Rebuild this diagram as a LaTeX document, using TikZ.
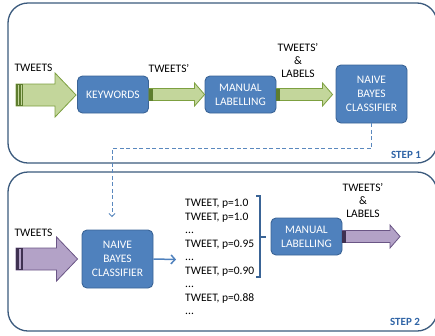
\documentclass[tikz,border=0pt]{standalone}
\usepackage{fontspec}
\setmainfont{Carlito}
\usetikzlibrary{arrows.meta,calc}

\definecolor{boxblue}{HTML}{4F81BD}
\definecolor{boxedge}{HTML}{3A6496}
\definecolor{paneledge}{HTML}{3B5A7D}
\definecolor{dashblue}{HTML}{5A88BE}
\definecolor{steptxt}{HTML}{2F64A6}
\definecolor{gfill}{HTML}{C3D69B}
\definecolor{gline}{HTML}{7DA040}
\definecolor{gdark}{HTML}{5E7D2E}
\definecolor{pfill}{HTML}{B3A2C7}
\definecolor{pline}{HTML}{6A5585}
\definecolor{pdark}{HTML}{3F3151}

% block arrow: fill, line, from, to, shaft half, head half, head length
\newcommand{\fatarrow}[7]{%
  \draw[fill=#1, draw=#2, line width=0.8pt, line join=miter] let \p1=(#3), \p2=(#4) in
    (\x1,\y1-#5) -- (\x2-#7,\y1-#5) -- (\x2-#7,\y1-#6) -- (\x2,\y1)
    -- (\x2-#7,\y1+#6) -- (\x2-#7,\y1+#5) -- (\x1,\y1+#5) -- cycle;
}
\newcommand{\skiprow}{...}

\begin{document}
\begin{tikzpicture}[x=1pt,y=-1pt,
  txt/.style={font=\fontsize{11.5}{14}\selectfont, inner sep=0pt},
  stage/.style={txt, align=center, text=white, fill=boxblue, draw=boxedge,
    line width=0.9pt, rounded corners=5pt, minimum width=71pt},
  panel/.style={draw=paneledge, line width=1.3pt, rounded corners=20pt},
  steplbl/.style={inner sep=0pt, font=\fontsize{11}{13}\selectfont\bfseries, text=steptxt}]
  \useasboundingbox (0,0) rectangle (435,335);

  % the two stages
  \draw[panel] (8,3) rectangle (437,163);
  \draw[panel] (8,172) rectangle (437,331);

  % step 1
  \node[stage, minimum height=37pt] (keywords) at (113,94.5) {KEYWORDS};
  \node[stage, minimum height=37pt] (manual1) at (240.5,94.5) {MANUAL\\LABELLING};
  \node[stage, minimum height=58pt] (nb1) at (371.5,94) {NAIVE\\BAYES\\CLASSIFIER};
  \coordinate (in1) at (16,95);

  \fatarrow{gfill}{gline}{in1}{[xshift=-1pt]keywords.west}{11pt}{22pt}{21pt}
  \fill[gdark] ([yshift=-11pt]in1) rectangle ([shift={(7pt,11pt)}]in1);
  \fill[gfill] ([shift={(2.3pt,-10.4pt)}]in1) rectangle ([shift={(3.4pt,10.4pt)}]in1);
  \fill[gfill] ([shift={(4.8pt,-10.4pt)}]in1) rectangle ([shift={(5.6pt,10.4pt)}]in1);
  \fatarrow{gfill}{gline}{keywords.east}{manual1.west}{6pt}{11.5pt}{10pt}
  \fill[gdark] ([yshift=-6pt]keywords.east) rectangle ([shift={(4pt,6pt)}]keywords.east);
  \fatarrow{gfill}{gline}{manual1.east}{[xshift=-3pt]nb1.west}{6pt}{11.5pt}{10pt}
  \fill[gdark] ([yshift=-6pt]manual1.east) rectangle ([shift={(4pt,6pt)}]manual1.east);

  \node[txt] (tw1) at (33.5,67.5) {TWEETS};
  \node[txt] (tw1b) at (169,68) {TWEETS'};
  \node[txt, align=center, font=\fontsize{11.5}{13}\selectfont] (twl1) at (298,60) {TWEETS'\\\&\\LABELS};
  \node[steplbl] (step1) at (406,155) {STEP 1};

  % step 2
  \node[stage, minimum height=58pt] (nb2) at (117.5,259) {NAIVE\\BAYES\\CLASSIFIER};
  \node[stage, minimum height=37pt] (manual2) at (306.5,236.5) {MANUAL\\LABELLING};
  \coordinate (in2) at (16,259);
  \coordinate (out2) at (400,236.5);
  \coordinate (ranked) at (176,259.5);

  \fatarrow{pfill}{pline}{in2}{[xshift=-4pt]nb2.west}{11pt}{22pt}{21pt}
  \fill[pdark] ([yshift=-11pt]in2) rectangle ([shift={(7pt,11pt)}]in2);
  \fill[pfill] ([shift={(3.3pt,-10.4pt)}]in2) rectangle ([shift={(5pt,10.4pt)}]in2);
  \fatarrow{pfill}{pline}{manual2.east}{out2}{6pt}{11.5pt}{10pt}
  \fill[pdark] ([yshift=-6pt]manual2.east) rectangle ([shift={(4pt,6pt)}]manual2.east);

  \draw[boxblue, line width=1.5pt, -{Straight Barb[length=4pt,width=9pt]}] (nb2.east) -- (ranked);

  \foreach \t [count=\i] in {{TWEET, p=1.0},{TWEET, p=1.0},\skiprow,{TWEET, p=0.95},\skiprow,
      {TWEET, p=0.90},\skiprow,{TWEET, p=0.88},\skiprow}
    \node[txt, anchor=base west] (row\i) at (185,193.2+13.5*\i) {\t};

  % bracket round the top rows
  \draw[boxedge, line width=1.2pt] (256,196) -- (260,196) -- (260,277) -- (256,277)
    (260,237) -- (266,237);

  \node[txt] (tw2) at (33.5,232.5) {TWEETS};
  \node[txt, align=center, font=\fontsize{11.5}{13}\selectfont] (twl2) at (363,200) {TWEETS'\\\&\\LABELS};
  \node[steplbl] (step2) at (405,322) {STEP 2};

  % classifier carried over
  \coordinate (fb) at (112,217);
  \draw[dashblue, line width=0.8pt, dash pattern=on 4pt off 2.5pt,
    -{Straight Barb[length=3pt,width=6pt]}] (nb1.south) -- ++(0,25) -| (fb);
\end{tikzpicture}
\end{document}
